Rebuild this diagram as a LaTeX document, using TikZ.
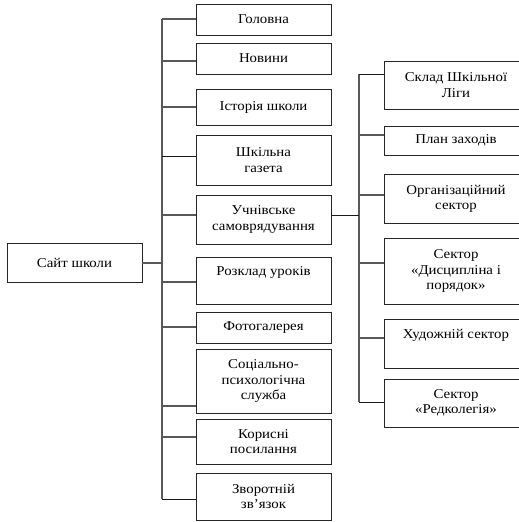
\documentclass[tikz,border=0pt]{standalone}
\usepackage{fontspec}
\setmainfont[FakeStretch=1.1]{Liberation Serif}
\begin{document}
\begin{tikzpicture}[x=1pt,y=-1pt,
  box/.style={draw=black!85, line width=0.9pt, align=center, inner sep=0pt,
    font=\fontsize{13.5}{15.3}\selectfont, text=black},
  mid/.style={box, minimum width=135pt},
  rgt/.style={box, minimum width=144pt},
  conn/.style={draw=black!65, line width=1.3pt},
  connd/.style={draw=black!90, line width=1pt}]
\useasboundingbox (0,0) rectangle (519,522);
% left box
\node[mid, minimum height=39pt] (site) at (74.5,262.5) {Сайт школи};
% middle column
\node[mid, minimum height=31pt] (m1) at (263.5,19.5) {Головна};
\node[mid, minimum height=31pt] (m2) at (263.5,58.5) {Новини};
\node[mid, minimum height=36pt] (m3) at (263.5,107) {Історія школи};
\node[mid, minimum height=50pt] (m4) at (263.5,160) {Шкільна\\газета};
\node[mid, minimum height=49pt] (m5) at (263.5,219.5) {Учнівське\\самоврядування};
\node[mid, minimum height=47pt] (m6) at (263.5,280.5) {Розклад уроків\\\strut};
\node[mid, minimum height=31pt] (m7) at (263.5,327.5) {Фотогалерея};
\node[mid, minimum height=64pt] (m8) at (263.5,381) {Соціально-\\психологічна\\служба};
\node[mid, minimum height=45pt] (m9) at (263.5,441.5) {Корисні\\посилання};
\node[mid, minimum height=47pt] (m10) at (263.5,496.5) {Зворотній\\зв’язок};
% right column
\node[rgt, minimum height=48pt] (r1) at (456,85) {Склад Шкільної\\Ліги};
\node[rgt, minimum height=29pt] (r2) at (456,140.5) {План заходів};
\node[rgt, minimum height=49pt] (r3) at (456,198.5) {Організаційний\\сектор};
\node[rgt, minimum height=66pt] (r4) at (456,271) {Сектор\\«Дисципліна і\\порядок»};
\node[rgt, minimum height=49pt] (r5) at (456,343.5) {Художній сектор\\\strut};
\node[rgt, minimum height=48pt] (r6) at (456,403) {Сектор\\«Редколегія»};
% trunks
\coordinate (t1top) at (162,19);
\coordinate (t1bot) at (162,499);
\coordinate (t2top) at (359,74);
\coordinate (t2bot) at (359,402);
\draw[conn] (t1top) -- (t1bot);
\draw[conn] (t2top) -- (t2bot);
% connectors
\draw[conn] (site.east |- 0,263) -- (t1top |- 0,263);
\draw[conn] (t1top |- 0,19) -- (m1.west |- 0,19);
\draw[conn] (t1top |- 0,61) -- (m2.west |- 0,61);
\draw[conn] (t1top |- 0,107) -- (m3.west |- 0,107);
\draw[connd] (t1top |- 0,156) -- (m4.west |- 0,156);
\draw[conn] (t1top |- 0,215) -- (m5.west |- 0,215);
\draw[conn] (t1top |- 0,282) -- (m6.west |- 0,282);
\draw[conn] (t1top |- 0,327) -- (m7.west |- 0,327);
\draw[conn] (t1top |- 0,406) -- (m8.west |- 0,406);
\draw[conn] (t1top |- 0,437) -- (m9.west |- 0,437);
\draw[connd] (t1top |- 0,499) -- (m10.west |- 0,499);
\draw[connd] (m5.east |- 0,215) -- (t2top |- 0,215);
\draw[connd] (t2top |- 0,74) -- (r1.west |- 0,74);
\draw[conn] (t2top |- 0,135) -- (r2.west |- 0,135);
\draw[conn] (t2top |- 0,195) -- (r3.west |- 0,195);
\draw[conn] (t2top |- 0,263) -- (r4.west |- 0,263);
\draw[conn] (t2top |- 0,338) -- (r5.west |- 0,338);
\draw[connd] (t2top |- 0,402) -- (r6.west |- 0,402);
\end{tikzpicture}
\end{document}
